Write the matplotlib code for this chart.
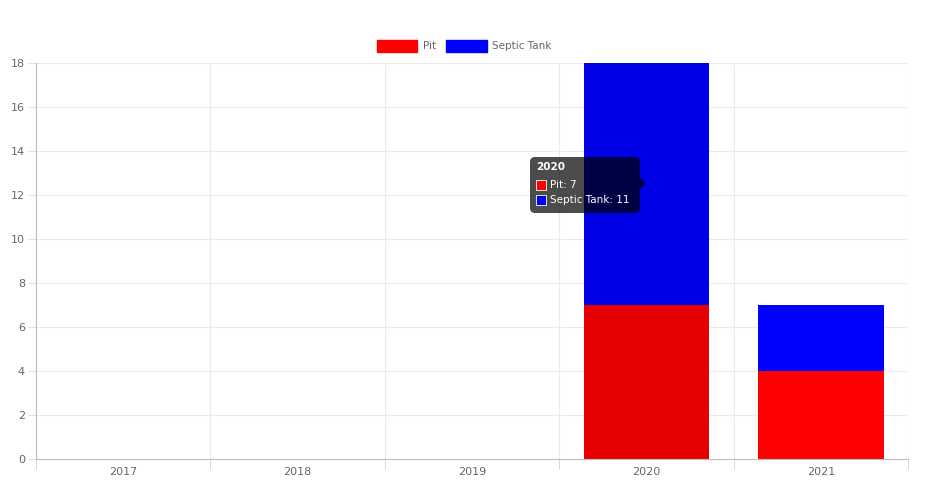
import matplotlib.pyplot as plt
from matplotlib.patches import FancyBboxPatch, Rectangle, Polygon
import numpy as np

years = ['2017', '2018', '2019', '2020', '2021']
pit = [0, 0, 0, 7, 4]
septic = [0, 0, 0, 11, 3]
yticks = list(range(0, 19, 2))

fig = plt.figure(figsize=(9.28, 4.91), dpi=100)
ax = fig.add_axes([36 / 928, 1 - 459 / 491, 872 / 928, 396 / 491])

x = np.arange(len(years))
# hovered bar (2020) is drawn a bit darker, like in the chart.js tooltip state
pit_colors = ['#ff0000'] * len(years)
sep_colors = ['#0000ff'] * len(years)
pit_colors[3] = '#e60000'
sep_colors[3] = '#0000e6'
ax.bar(x, pit, width=0.72, color=pit_colors, zorder=2)
ax.bar(x, septic, width=0.72, bottom=pit, color=sep_colors, zorder=2)

ax.set_xlim(-0.5, len(years) - 0.5)
ax.set_ylim(0, 18)
ax.set_yticks(yticks)
ax.set_xticks(x)
ax.set_xticklabels(years)
ax.set_xticks(np.arange(-0.5, len(years), 1), minor=True)

ax.grid(axis='y', color='#ebebeb', lw=0.8, zorder=0)
ax.grid(axis='x', which='minor', color='#ebebeb', lw=0.8, zorder=0)
ax.tick_params(axis='x', which='major', length=0, labelsize=8, labelcolor='#666666', pad=6)
ax.tick_params(axis='x', which='minor', length=7, color='#d0d0d0')
ax.tick_params(axis='y', length=6, color='#e0e0e0', labelsize=8, labelcolor='#666666', pad=2)
for s in ['top', 'right']:
    ax.spines[s].set_visible(False)
for s in ['left', 'bottom']:
    ax.spines[s].set_color('#bdbdbd')
    ax.spines[s].set_linewidth(0.8)

# legend
leg = fig.legend(handles=[Rectangle((0, 0), 1, 1, color='#ff0000'),
                          Rectangle((0, 0), 1, 1, color='#0000ff')],
                 labels=['Pit', 'Septic Tank'], loc='center', ncol=2,
                 bbox_to_anchor=(0.5, 1 - 46 / 491), frameon=False,
                 handlelength=3.9, handleheight=1.3, handletextpad=0.5,
                 columnspacing=1.0, fontsize=7.5)
for t in leg.get_texts():
    t.set_color('#666666')

# tooltip
tip = FancyBboxPatch((530, 491 - 213), 110, 56, boxstyle='round,pad=0,rounding_size=5',
                     transform=None, facecolor='black', alpha=0.7, lw=0, zorder=5)
fig.patches.append(tip)
caret = Polygon([(640, 491 - 177), (646, 491 - 183), (640, 491 - 189)], closed=True,
                transform=None, facecolor='black', alpha=0.7, lw=0, zorder=5)
fig.patches.append(caret)
fig.text(536 / 928, 1 - 167 / 491, '2020', color='white', fontsize=7.5,
         fontweight='bold', va='center', zorder=8)
for i, (lab, c) in enumerate([('Pit: 7', '#ff0000'), ('Septic Tank: 11', '#0000ff')]):
    yy = 185 + i * 15
    fig.patches.append(Rectangle((536, 491 - yy - 5), 10, 10, transform=None,
                                 facecolor=c, edgecolor='white', lw=0.6, zorder=6))
    fig.text(550 / 928, 1 - yy / 491, lab, color='white', fontsize=7.5,
             va='center', zorder=8)

fig.savefig('out.png', dpi=100)
